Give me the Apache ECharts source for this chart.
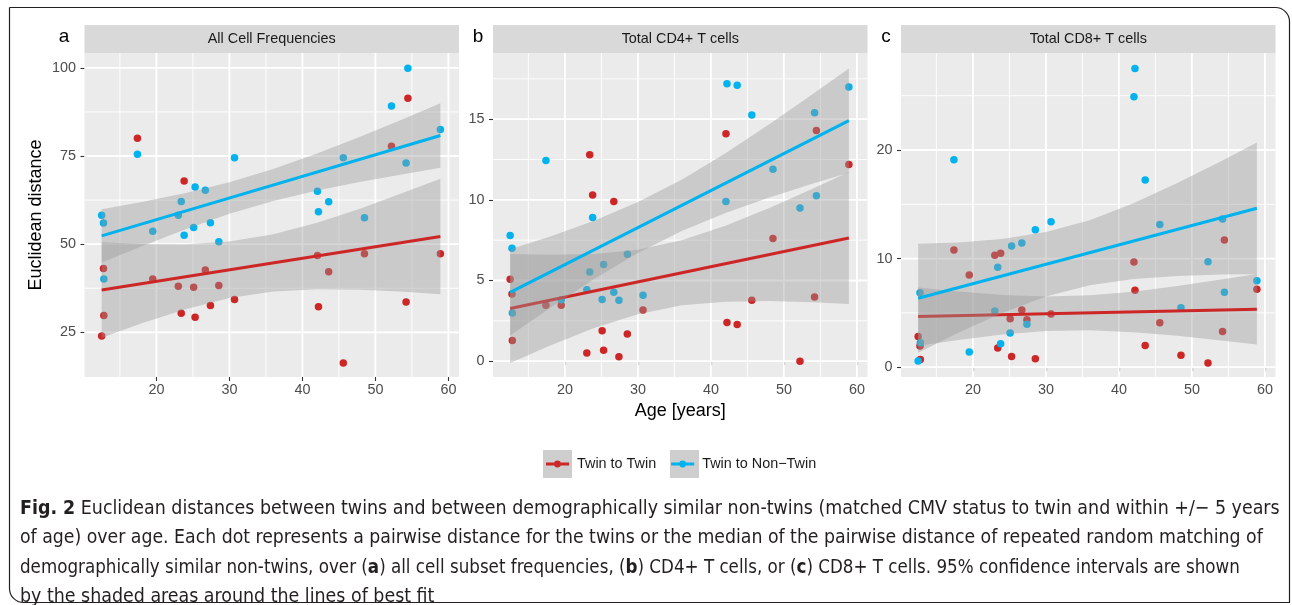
<!DOCTYPE html>
<html><head><meta charset="utf-8">
<script src="https://cdn.jsdelivr.net/npm/echarts@6/dist/echarts.min.js"></script>
<style>html,body{margin:0;padding:0;background:#fff}#c{width:1292px;height:605px}</style>
</head><body><div id="c"></div>
<script>
// ---------- data ----------
const AGES = [12.5, 12.75, 12.8, 17.4, 19.5, 23.0, 23.4, 23.8, 25.1, 25.3, 26.7, 27.4, 28.55, 30.7, 42.06, 42.2, 43.6, 45.6, 48.5, 52.2, 54.2, 54.45, 58.9];

const TWIN_A    = [24.0, 43.1, 29.8, 80.0, 40.1, 38.1, 30.4, 67.9, 37.8, 29.3, 42.7, 32.6, 38.3, 34.3, 46.8, 32.3, 42.2, 16.3, 47.3, 77.8, 33.6, 91.4, 47.3];
const NONTWIN_A = [58.2, 56.0, 40.1, 75.5, 53.7, 58.2, 62.1, 52.5, 54.7, 66.2, 65.3, 56.1, 50.7, 74.5, 65.0, 59.2, 62.0, 74.5, 57.5, 89.2, 73.0, 99.9, 82.5];
const TWIN_B    = [5.08, 4.17, 1.28, 3.47, 3.47, 0.5, 12.8, 10.3, 1.88, 0.68, 9.9, 0.27, 1.69, 3.18, 14.1, 2.4, 2.27, 3.78, 7.6, 0.0, 3.98, 14.3, 12.19];
const NONTWIN_B = [7.79, 7.0, 2.99, 12.43, 3.8, 4.42, 5.53, 8.9, 3.82, 5.99, 4.28, 3.78, 6.63, 4.09, 9.9, 17.2, 17.1, 15.26, 11.9, 9.5, 15.4, 10.25, 17.0];
const TWIN_C    = [2.82, 1.96, 0.70, 10.79, 8.49, 10.3, 1.78, 10.49, 4.47, 0.98, 5.27, 4.38, 0.79, 4.9, 9.69, 7.08, 1.99, 4.1, 1.1, 0.4, 3.28, 11.71, 7.18];
const NONTWIN_C = [0.58, 6.86, 2.26, 19.1, 1.41, 5.18, 9.2, 2.17, 3.16, 11.16, 11.44, 3.95, 12.66, 13.4, 24.9, 27.5, 17.23, 13.15, 5.48, 9.72, 13.64, 6.9, 7.97];

// lines of best fit (read at the ends of the age range)
const FIT_X = [12.5, 58.9];
const FIT_TWIN_A = [37.0, 52.2],  FIT_NON_A = [52.35, 80.8];
const FIT_TWIN_B = [3.26, 7.64],  FIT_NON_B = [4.26, 14.91];
const FIT_TWIN_C = [4.66, 5.34],  FIT_NON_C = [6.35, 14.63];

// 95% confidence bands
const BAND_X = [12.5, 18, 24, 30, 36, 42, 48, 54, 58.9];
const BAND_TWIN_A_HI = [50.53, 50.03, 49.96, 50.74, 52.79, 56.06, 60.15, 64.69, 68.58];
const BAND_TWIN_A_LO = [23.47, 27.57, 31.58, 34.72, 36.61, 37.26, 37.11, 36.51, 35.82];
const BAND_NON_A_HI  = [59.9, 61.99, 64.53, 67.55, 71.28, 75.69, 80.54, 85.66, 89.94];
const BAND_NON_A_LO  = [44.8, 49.45, 54.27, 58.61, 62.24, 65.19, 67.68, 69.92, 71.66];
const BAND_TWIN_B_HI = [6.64, 6.59, 6.65, 6.91, 7.50, 8.39, 9.49, 10.70, 11.73];
const BAND_TWIN_B_LO = [-0.12, 0.97, 2.05, 2.91, 3.46, 3.69, 3.73, 3.66, 3.55];
const BAND_NON_B_HI  = [6.93, 7.73, 8.71, 9.86, 11.25, 12.88, 14.68, 16.57, 18.14];
const BAND_NON_B_LO  = [1.59, 3.31, 5.09, 6.70, 8.07, 9.18, 10.14, 11.01, 11.68];
const BAND_TWIN_C_HI = [7.35, 6.97, 6.65, 6.51, 6.62, 6.96, 7.47, 8.07, 8.59];
const BAND_TWIN_C_LO = [1.97, 2.51, 3.01, 3.33, 3.40, 3.22, 2.89, 2.47, 2.09];
const BAND_NON_C_HI  = [11.36, 11.49, 11.80, 12.44, 13.54, 15.09, 16.95, 18.97, 20.70];
const BAND_NON_C_LO  = [1.34, 3.17, 5.00, 6.50, 7.54, 8.13, 8.41, 8.53, 8.56];

// ticks
const X_TICKS = [20, 30, 40, 50, 60];
const X_MINOR = [15, 25, 35, 45, 55];
const Y_TICKS_A = [25, 50, 75, 100], Y_MINOR_A = [37.5, 62.5, 87.5];
const Y_TICKS_B = [0, 5, 10, 15],    Y_MINOR_B = [2.5, 7.5, 12.5, 17.5];
const Y_TICKS_C = [0, 10, 20],       Y_MINOR_C = [5, 15, 25];

const STRIPS = ['All Cell Frequencies', 'Total CD4+ T cells', 'Total CD8+ T cells'];
const LETTERS = ['a', 'b', 'c'];
const SERIES_NAMES = ['Twin to Twin', 'Twin to Non\u2212Twin'];
const Y_TITLE = 'Euclidean distance';
const X_TITLE = 'Age [years]';
const CAPTION_LINES = [
  '{b|Fig. 2} Euclidean distances between twins and between demographically similar non-twins (matched CMV status to twin and within +/\u2212 5 years',
  'of age) over age. Each dot represents a pairwise distance for the twins or the median of the pairwise distance of repeated random matching of',
  'demographically similar non-twins, over ({b|a}) all cell subset frequencies, ({b|b}) CD4+ T cells, or ({b|c}) CD8+ T cells. 95% confidence intervals are shown',
  'by the shaded areas around the lines of best fit'
];

// ---------- styling / layout ----------
const FONT = "'Liberation Sans', Arial, Helvetica, sans-serif";
const CAP_FONT = "'DejaVu Sans Condensed', 'Liberation Sans', sans-serif";
const CAP_SIZES = [19.42, 19.25, 18.6, 19.4];
const RED = '#CD2626', BLUE = '#00B2EE';
const BAND_FILL = 'rgba(153,153,153,0.4)';
const GL = [84.5, 493, 901], GW = 374.5, GT = 53, GH = 324;
const XR = [10.15, 61.45];
const YR = [[12.35, 104.2], [-0.98, 19.1], [-0.9, 28.93]];

const panels = [
  {twin: TWIN_A, non: NONTWIN_A, fitT: FIT_TWIN_A, fitN: FIT_NON_A, bT: [BAND_TWIN_A_LO, BAND_TWIN_A_HI], bN: [BAND_NON_A_LO, BAND_NON_A_HI], yt: Y_TICKS_A, ym: Y_MINOR_A},
  {twin: TWIN_B, non: NONTWIN_B, fitT: FIT_TWIN_B, fitN: FIT_NON_B, bT: [BAND_TWIN_B_LO, BAND_TWIN_B_HI], bN: [BAND_NON_B_LO, BAND_NON_B_HI], yt: Y_TICKS_B, ym: Y_MINOR_B},
  {twin: TWIN_C, non: NONTWIN_C, fitT: FIT_TWIN_C, fitN: FIT_NON_C, bT: [BAND_TWIN_C_LO, BAND_TWIN_C_HI], bN: [BAND_NON_C_LO, BAND_NON_C_HI], yt: Y_TICKS_C, ym: Y_MINOR_C}
];

function gridSeries(i, p) {
  return {
    type: 'custom', xAxisIndex: i, yAxisIndex: i, z: 1, silent: true, data: [0],
    renderItem: function (params, api) {
      const cs = params.coordSys, ch = [];
      const vline = (v, w) => { const x = api.coord([v, p.yt[0]])[0]; ch.push({type: 'line', shape: {x1: x, y1: cs.y, x2: x, y2: cs.y + cs.height}, style: {stroke: '#FFFFFF', lineWidth: w}}); };
      const hline = (v, w) => { const y = api.coord([X_TICKS[0], v])[1]; ch.push({type: 'line', shape: {x1: cs.x, y1: y, x2: cs.x + cs.width, y2: y}, style: {stroke: '#FFFFFF', lineWidth: w}}); };
      X_MINOR.forEach(v => vline(v, 0.9));
      p.ym.forEach(v => hline(v, 0.9));
      X_TICKS.forEach(v => vline(v, 1.8));
      p.yt.forEach(v => hline(v, 1.8));
      return {type: 'group', children: ch};
    }
  };
}
function bandSeries(i, lo, hi, z) {
  return {
    type: 'custom', xAxisIndex: i, yAxisIndex: i, z: z, silent: true, data: [0],
    renderItem: function (params, api) {
      const pts = BAND_X.map((x, k) => api.coord([x, hi[k]]));
      for (let k = BAND_X.length - 1; k >= 0; k--) pts.push(api.coord([BAND_X[k], lo[k]]));
      return {type: 'polygon', shape: {points: pts}, style: {fill: BAND_FILL}};
    }
  };
}
function fitSeries(i, vals, color, z) {
  return {type: 'line', xAxisIndex: i, yAxisIndex: i, z: z, silent: true, symbol: 'none',
    data: FIT_X.map((x, k) => [x, vals[k]]), lineStyle: {color: color, width: 3}, name: 'fit' + i + color};
}
function pointSeries(i, vals, name, color) {
  return {type: 'scatter', name: name, xAxisIndex: i, yAxisIndex: i, z: 2, symbol: 'circle', symbolSize: 7.5,
    itemStyle: {color: color, opacity: 1}, emphasis: {disabled: true},
    data: AGES.map((a, k) => [a, vals[k]])};
}

const series = [];
panels.forEach((p, i) => {
  series.push(gridSeries(i, p));
  series.push(pointSeries(i, p.twin, SERIES_NAMES[0], RED));
  series.push(pointSeries(i, p.non, SERIES_NAMES[1], BLUE));
  series.push(bandSeries(i, p.bT[0], p.bT[1], 3));
  series.push(fitSeries(i, p.fitT, RED, 4));
  series.push(bandSeries(i, p.bN[0], p.bN[1], 5));
  series.push(fitSeries(i, p.fitN, BLUE, 6));
});

const tickStyle = {show: true, length: 4, lineStyle: {color: '#333333', width: 1.1}};
const labelStyle = {color: '#4D4D4D', fontSize: 14.4, fontFamily: FONT};

const xAxis = panels.map((p, i) => ({
  gridIndex: i, type: 'value', min: XR[0], max: XR[1],
  axisLine: {show: false}, splitLine: {show: false},
  axisTick: Object.assign({customValues: X_TICKS}, tickStyle),
  axisLabel: Object.assign({customValues: X_TICKS, margin: 6}, labelStyle),
  name: i === 1 ? X_TITLE : '', nameLocation: 'middle', nameGap: 25,
  nameTextStyle: {fontSize: 18, color: '#000000', fontFamily: FONT}
}));
const yAxis = panels.map((p, i) => ({
  gridIndex: i, type: 'value', min: YR[i][0], max: YR[i][1],
  axisLine: {show: false}, splitLine: {show: false},
  axisTick: Object.assign({customValues: p.yt}, tickStyle),
  axisLabel: Object.assign({customValues: p.yt, margin: 8.5}, labelStyle),
  name: i === 0 ? Y_TITLE : '', nameLocation: 'middle', nameGap: 39, nameRotate: 90,
  nameTextStyle: {fontSize: 18, color: '#000000', fontFamily: FONT}
}));

const LEG_ICON = 'path://M0,0L0.02,0L0.02,0.02Z M29,28L28.98,28L28.98,27.98Z M3,12.5L26,12.5L26,15.5L3,15.5Z M11.1,14A3.4,3.4 0 1,1 17.9,14A3.4,3.4 0 1,1 11.1,14Z';

const graphic = [];
graphic.push({type: 'rect', z: 0, silent: true, shape: {x: 9.5, y: 7.5, width: 1280, height: 595, r: [0, 14, 0, 14]}, style: {fill: 'none', stroke: '#231F20', lineWidth: 1.2}});
panels.forEach((p, i) => {
  graphic.push({type: 'rect', z: 0, silent: true, shape: {x: GL[i], y: 25, width: GW, height: 28}, style: {fill: '#D9D9D9'}});
  graphic.push({type: 'text', z: 1, silent: true, x: GL[i] + GW / 2, y: 39.5, style: {text: STRIPS[i], fontSize: 14.4, fontFamily: FONT, fill: '#1A1A1A', align: 'center', verticalAlign: 'middle'}});
});
[64, 478, 886].forEach((x, i) => {
  graphic.push({type: 'text', z: 1, silent: true, x: x, y: 37, style: {text: LETTERS[i], fontSize: 19, fontFamily: FONT, fill: '#000000', align: 'center', verticalAlign: 'middle'}});
});
[543, 670].forEach(x => {
  graphic.push({type: 'rect', z: 0, silent: true, shape: {x: x, y: 450, width: 29, height: 28}, style: {fill: '#CECECE'}});
});

const titles = CAPTION_LINES.map((t, k) => ({
  left: 20, top: 494 + 29.5 * k, padding: 0, text: t,
  textStyle: {fontFamily: CAP_FONT, fontSize: CAP_SIZES[k], fontWeight: 'normal', color: '#231F20', lineHeight: 29.5,
    rich: {b: {fontFamily: CAP_FONT, fontSize: CAP_SIZES[k], fontWeight: 'bold', color: '#231F20', lineHeight: 29.5}}}
}));

const option = {
  animation: false,
  title: titles,
  grid: GL.map(l => ({left: l, top: GT, width: GW, height: GH, show: true, backgroundColor: '#EBEBEB', borderWidth: 0, containLabel: false, outerBoundsMode: 'none'})),
  xAxis: xAxis, yAxis: yAxis,
  legend: {
    left: 543, top: 450, padding: 0, itemWidth: 29, itemHeight: 28, itemGap: 12, selectedMode: false, z: 5,
    textStyle: {fontSize: 14.4, fontFamily: FONT, color: '#1A1A1A'},
    data: [{name: SERIES_NAMES[0], icon: LEG_ICON, itemStyle: {color: RED}}, {name: SERIES_NAMES[1], icon: LEG_ICON, itemStyle: {color: BLUE}}]
  },
  graphic: graphic,
  series: series
};
const chart = echarts.init(document.getElementById('c'), null, {renderer: 'canvas'});
chart.setOption(option);
</script></body></html>
